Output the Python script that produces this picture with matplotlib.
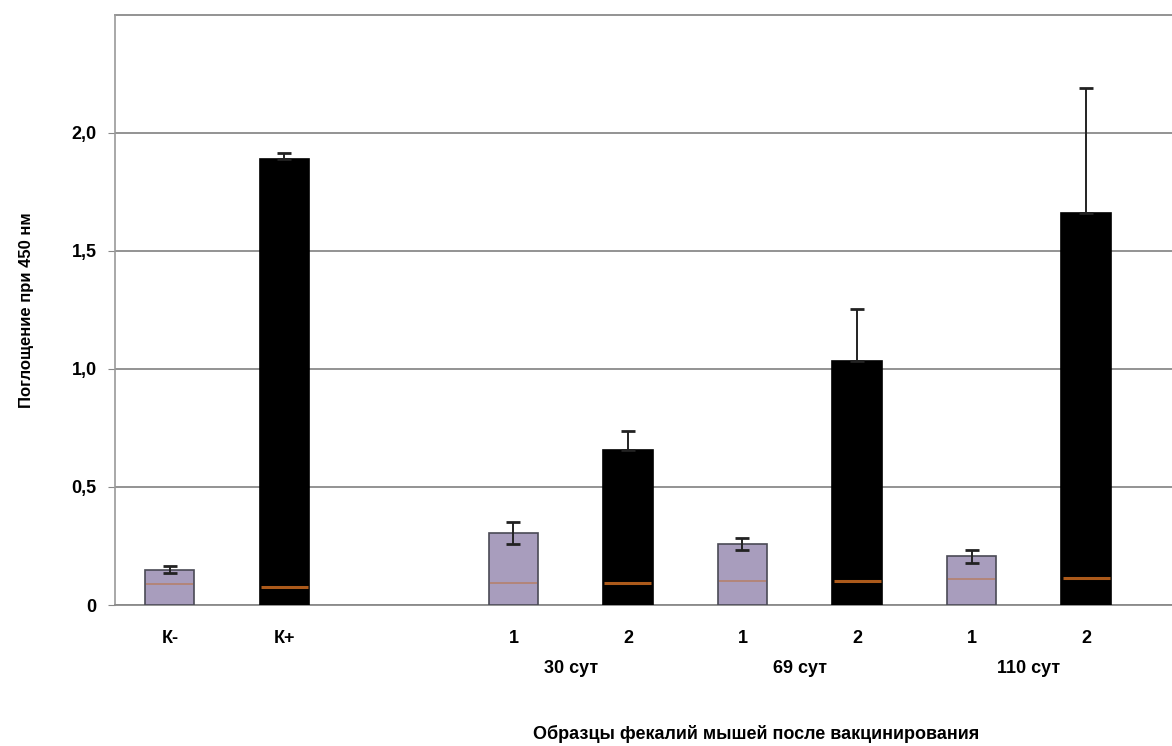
import numpy as np
import matplotlib.pyplot as plt

plt.rcParams['font.family'] = ['Liberation Sans', 'DejaVu Sans']
plt.rcParams['font.weight'] = 'bold'
plt.rcParams['axes.labelweight'] = 'bold'

# bar positions on the x axis (gap between controls and samples)
positions = [0, 1, 3, 4, 5, 6, 7, 8]
tick_labels = ['К-', 'К+', '1', '2', '1', '2', '1', '2']
group_labels = ['30 сут', '69 сут', '110 сут']
group_centers = [3.5, 5.5, 7.5]

values = [0.15, 1.89, 0.305, 0.657, 0.26, 1.035, 0.207, 1.66]
errors = [0.015, 0.025, 0.048, 0.08, 0.025, 0.22, 0.028, 0.53]
cutoff = [0.09, 0.078, 0.095, 0.094, 0.1, 0.1, 0.11, 0.115]
is_dark = [False, True, False, True, False, True, False, True]

fig = plt.figure(figsize=(11.72, 7.46), dpi=100)
ax = fig.add_axes([0.098, 0.189, 0.902, 0.791])

colors = ['black' if d else '#a89dbd' for d in is_dark]
edges = ['black' if d else '#4a4a55' for d in is_dark]
width = 0.43
ax.bar(positions, values, width=width, color=colors, edgecolor=edges,
       linewidth=1.2, zorder=3)
# dark bars only show the upper half of the error bar
lower = [0 if d else e for d, e in zip(is_dark, errors)]
ax.errorbar(positions, values, yerr=[lower, errors], fmt='none',
            ecolor='#222222', elinewidth=1.4, capsize=5, capthick=2.0,
            zorder=4)
# thin orange stripe low in each bar
for x, c, d in zip(positions, cutoff, is_dark):
    ax.hlines(c, x - width / 2 + 0.01, x + width / 2 - 0.01,
              color='#c0651f', linewidth=2.2 if d else 1.2,
              alpha=0.9 if d else 0.5, zorder=5)

ax.set_xlim(-0.48, 8.75)
ax.set_ylim(0, 2.5)
ax.set_yticks([0, 0.5, 1.0, 1.5, 2.0])
ax.set_yticklabels(['0', '0,5', '1,0', '1,5', '2,0'], fontsize=13)
ax.yaxis.grid(True, color='#8a8a8a', linewidth=1.3, zorder=0)
ax.axhline(2.5, color='#8a8a8a', linewidth=1.3, clip_on=False)

ax.set_xticks(positions)
ax.set_xticklabels(tick_labels, fontsize=13)
ax.tick_params(axis='x', length=0, pad=18)
ax.tick_params(axis='y', length=5, color='#888888', pad=8)

for c, lbl in zip(group_centers, group_labels):
    ax.text(c, -0.27, lbl, ha='center', va='center', fontsize=13,
            fontweight='bold', transform=ax.transData)

ax.set_ylabel('Поглощение при 450 нм', fontsize=12, labelpad=27)
fig.text(0.645, 0.004, 'Образцы фекалий мышей после вакцинирования',
         ha='center', va='bottom', fontsize=13, fontweight='bold')

for s in ['top', 'right']:
    ax.spines[s].set_visible(False)
ax.spines['left'].set_color('#9a9a9a')
ax.spines['bottom'].set_color('#8a8a8a')
ax.spines['left'].set_linewidth(1.2)
ax.spines['bottom'].set_linewidth(1.3)

fig.savefig('out.png', dpi=100)
